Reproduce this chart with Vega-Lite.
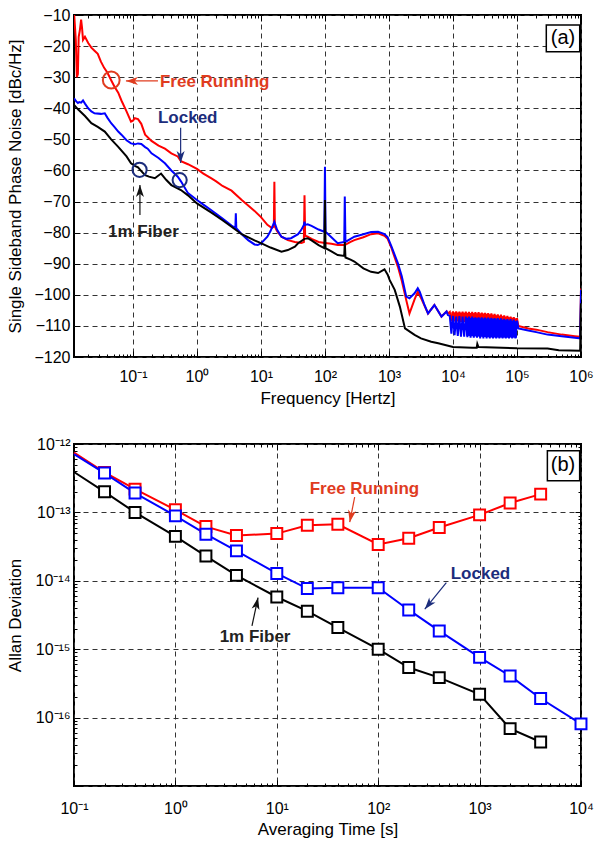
{
  "$schema": "https://vega.github.io/schema/vega-lite/v6.json",
  "background": "white",
  "padding": {"left": 5, "top": 6, "right": 0, "bottom": 0},
  "config": {
    "font": "Liberation Sans",
    "view": {"stroke": "#000", "strokeWidth": 2},
    "axis": {"domain": false, "labelFont": "Liberation Sans", "labelFontSize": 16, "labelColor": "#000", "titleFont": "Liberation Sans", "titleFontSize": 17, "titleFontWeight": "normal", "titleColor": "#000", "tickColor": "#000", "tickWidth": 1, "gridColor": "#333", "gridDash": [5, 4], "gridWidth": 1, "labelOverlap": false, "labelFlush": false},
    "concat": {"spacing": 28}
  },
  "datasets": {
    "red": [
      {"f":0.012,"dB":-9},{"f":0.0128,"dB":-18},{"f":0.0133,"dB":-30},{"f":0.0138,"dB":-29},{"f":0.0142,"dB":-17},{"f":0.0148,"dB":-15},{"f":0.0155,"dB":-11.5},{"f":0.016,"dB":-14},{"f":0.0166,"dB":-18},{"f":0.0178,"dB":-17},{"f":0.02,"dB":-19},{"f":0.0224,"dB":-20.5},{"f":0.0251,"dB":-21.5},{"f":0.0282,"dB":-22.5},{"f":0.0316,"dB":-25},{"f":0.0355,"dB":-27},{"f":0.0398,"dB":-28.5},{"f":0.0457,"dB":-31},{"f":0.0513,"dB":-33},{"f":0.0589,"dB":-35},{"f":0.0661,"dB":-37.5},{"f":0.0794,"dB":-41},{"f":0.0933,"dB":-44.3},{"f":0.1,"dB":-44},{"f":0.107,"dB":-43.2},{"f":0.12,"dB":-43.5},{"f":0.135,"dB":-45},{"f":0.155,"dB":-48.5},{"f":0.195,"dB":-50.5},{"f":0.251,"dB":-52},{"f":0.316,"dB":-53},{"f":0.398,"dB":-54.5},{"f":0.501,"dB":-55.5},{"f":0.562,"dB":-57},{"f":0.724,"dB":-58},{"f":1.0,"dB":-59.5},{"f":1.26,"dB":-61},{"f":1.66,"dB":-62.5},{"f":2.0,"dB":-63.5},{"f":2.51,"dB":-65},{"f":3.47,"dB":-66.5},{"f":5.01,"dB":-69.5},{"f":7.94,"dB":-73},{"f":10,"dB":-75},{"f":12.6,"dB":-77.5},{"f":14.8,"dB":-78.5},{"f":15.9,"dB":-78},{"f":16.2,"dB":-63.6},{"f":16.5,"dB":-78},{"f":17.8,"dB":-79.5},{"f":20.9,"dB":-81.3},{"f":26.3,"dB":-82.4},{"f":33.9,"dB":-83},{"f":42.7,"dB":-83.3},{"f":46.8,"dB":-83},{"f":47.9,"dB":-68},{"f":49,"dB":-81},{"f":53.7,"dB":-81.3},{"f":61.7,"dB":-82},{"f":79.4,"dB":-83},{"f":100,"dB":-83.3},{"f":126,"dB":-83.6},{"f":158,"dB":-84},{"f":204,"dB":-84},{"f":251,"dB":-83},{"f":288,"dB":-82.4},{"f":398,"dB":-81.5},{"f":525,"dB":-80.5},{"f":676,"dB":-80.2},{"f":851,"dB":-81},{"f":955,"dB":-82},{"f":1096,"dB":-85},{"f":1380,"dB":-91},{"f":1585,"dB":-95.5},{"f":1862,"dB":-101.7},{"f":2089,"dB":-106},{"f":2512,"dB":-101.5},{"f":2818,"dB":-99},{"f":3162,"dB":-101},{"f":4074,"dB":-106},{"f":5129,"dB":-103.3},{"f":6607,"dB":-107},{"f":7943,"dB":-105.3},{"f":8318,"dB":-106},
      {"f":8913,"dB":-105.5},{"f":9441,"dB":-108.5},{"f":10000,"dB":-105.3},{"f":10593,"dB":-108.5},{"f":11220,"dB":-105.3},{"f":11885,"dB":-108.5},{"f":12589,"dB":-105.4},{"f":13335,"dB":-108.7},{"f":14125,"dB":-105.4},{"f":14962,"dB":-108.7},{"f":15849,"dB":-105.4},{"f":16788,"dB":-108.8},{"f":17783,"dB":-105.5},{"f":18836,"dB":-108.8},{"f":19953,"dB":-105.5},{"f":21135,"dB":-109},{"f":22387,"dB":-105.6},{"f":23714,"dB":-109},{"f":25119,"dB":-105.6},{"f":26607,"dB":-109},{"f":28184,"dB":-105.7},{"f":29854,"dB":-109},{"f":31623,"dB":-105.8},{"f":33497,"dB":-109.2},{"f":35481,"dB":-105.9},{"f":37584,"dB":-109.2},{"f":39811,"dB":-106},{"f":42170,"dB":-109.3},{"f":44668,"dB":-106.1},{"f":47315,"dB":-109.3},{"f":50119,"dB":-106.3},{"f":53088,"dB":-109.5},{"f":56234,"dB":-106.4},{"f":59566,"dB":-109.5},{"f":63096,"dB":-106.6},{"f":66834,"dB":-109.6},{"f":70795,"dB":-106.8},{"f":74989,"dB":-109.6},{"f":79433,"dB":-107},{"f":84140,"dB":-109.8},{"f":89125,"dB":-107.2},{"f":94406,"dB":-109.8},{"f":100000,"dB":-107.5},
      {"f":105000,"dB":-110},{"f":150000,"dB":-110.8},{"f":200000,"dB":-111.2},{"f":300000,"dB":-112},{"f":500000,"dB":-112.8},{"f":800000,"dB":-113.3},{"f":970000,"dB":-113.5},{"f":1000000,"dB":-98}
    ],
    "blue": [
      {"f":0.012,"dB":-36.8},{"f":0.013,"dB":-37.8},{"f":0.0138,"dB":-38.3},{"f":0.0145,"dB":-38},{"f":0.0155,"dB":-38.2},{"f":0.0166,"dB":-37.5},{"f":0.0178,"dB":-38.5},{"f":0.02,"dB":-40},{"f":0.0224,"dB":-41},{"f":0.0251,"dB":-41.6},{"f":0.0316,"dB":-41.8},{"f":0.0363,"dB":-41.6},{"f":0.0398,"dB":-43},{"f":0.0457,"dB":-44.8},{"f":0.0513,"dB":-46},{"f":0.0589,"dB":-47.5},{"f":0.0661,"dB":-48.5},{"f":0.0794,"dB":-50.3},{"f":0.0933,"dB":-51.3},{"f":0.107,"dB":-51.6},{"f":0.12,"dB":-51.3},{"f":0.135,"dB":-51.5},{"f":0.155,"dB":-52.5},{"f":0.17,"dB":-53},{"f":0.195,"dB":-54.5},{"f":0.251,"dB":-56},{"f":0.316,"dB":-57.7},{"f":0.398,"dB":-60},{"f":0.501,"dB":-62},{"f":0.562,"dB":-63.5},{"f":0.724,"dB":-67.3},{"f":1.0,"dB":-69.5},{"f":1.26,"dB":-71},{"f":1.66,"dB":-72.7},{"f":2.51,"dB":-75.5},{"f":3.47,"dB":-77.7},{"f":3.98,"dB":-78.5},{"f":4.05,"dB":-73.8},{"f":4.12,"dB":-78.6},{"f":5.01,"dB":-80.5},{"f":6.31,"dB":-82.4},{"f":7.94,"dB":-83.8},{"f":8.91,"dB":-84},{"f":10,"dB":-83.5},{"f":12.6,"dB":-81.3},{"f":14.1,"dB":-79.5},{"f":16.2,"dB":-76.5},{"f":17.8,"dB":-79},{"f":20.9,"dB":-81.3},{"f":25,"dB":-82},{"f":29.5,"dB":-81.8},{"f":38,"dB":-80.5},{"f":42.7,"dB":-79.1},{"f":46.8,"dB":-77.5},{"f":47.9,"dB":-76.5},{"f":49,"dB":-77.5},{"f":53.7,"dB":-77.3},{"f":61.7,"dB":-77.8},{"f":79.4,"dB":-79},{"f":97.7,"dB":-79.7},{"f":100,"dB":-58.8},{"f":102,"dB":-79.7},{"f":126,"dB":-81.5},{"f":158,"dB":-83.4},{"f":200,"dB":-83},{"f":204,"dB":-68.4},{"f":209,"dB":-83},{"f":251,"dB":-82},{"f":288,"dB":-81.3},{"f":398,"dB":-80.5},{"f":525,"dB":-79.8},{"f":676,"dB":-79.7},{"f":851,"dB":-80.5},{"f":955,"dB":-81.5},{"f":1096,"dB":-84.5},{"f":1380,"dB":-89.9},{"f":1585,"dB":-94},{"f":1862,"dB":-100.6},{"f":2089,"dB":-101.1},{"f":2512,"dB":-99.5},{"f":2818,"dB":-97.9},{"f":3020,"dB":-99},{"f":3548,"dB":-103},{"f":4074,"dB":-106},{"f":5129,"dB":-103.3},{"f":6607,"dB":-107},{"f":7943,"dB":-105.4},{"f":8318,"dB":-106.5},
      {"f":8913,"dB":-106.8},{"f":9441,"dB":-112.5},{"f":10000,"dB":-106.8},{"f":10593,"dB":-113},{"f":11220,"dB":-107},{"f":11885,"dB":-113.2},{"f":12589,"dB":-106.8},{"f":13335,"dB":-113.5},{"f":14125,"dB":-107},{"f":14962,"dB":-113.5},{"f":15849,"dB":-107},{"f":16788,"dB":-113.6},{"f":17783,"dB":-107},{"f":18836,"dB":-113.8},{"f":19953,"dB":-107},{"f":21135,"dB":-113.8},{"f":22387,"dB":-107.2},{"f":23714,"dB":-113.8},{"f":25119,"dB":-107.2},{"f":26607,"dB":-114},{"f":28184,"dB":-107.2},{"f":29854,"dB":-114},{"f":31623,"dB":-107.3},{"f":33497,"dB":-114},{"f":35481,"dB":-107.3},{"f":37584,"dB":-114},{"f":39811,"dB":-107.4},{"f":42170,"dB":-114},{"f":44668,"dB":-107.5},{"f":47315,"dB":-114},{"f":50119,"dB":-107.5},{"f":53088,"dB":-114},{"f":56234,"dB":-107.6},{"f":59566,"dB":-114},{"f":63096,"dB":-107.7},{"f":66834,"dB":-114},{"f":70795,"dB":-107.8},{"f":74989,"dB":-114},{"f":79433,"dB":-107.8},{"f":84140,"dB":-114},{"f":89125,"dB":-108},{"f":94406,"dB":-114},{"f":100000,"dB":-108.3},
      {"f":105000,"dB":-110.8},{"f":150000,"dB":-111.5},{"f":200000,"dB":-112},{"f":300000,"dB":-112.8},{"f":500000,"dB":-113.3},{"f":800000,"dB":-113.8},{"f":970000,"dB":-114},{"f":1000000,"dB":-98.4}
    ],
    "black": [
      {"f":0.012,"dB":-38.9},{"f":0.0141,"dB":-40.5},{"f":0.0178,"dB":-42.5},{"f":0.0224,"dB":-44.8},{"f":0.0282,"dB":-46},{"f":0.0363,"dB":-47.5},{"f":0.0457,"dB":-50},{"f":0.0589,"dB":-52.4},{"f":0.0794,"dB":-55.5},{"f":0.0933,"dB":-57.7},{"f":0.107,"dB":-58.5},{"f":0.12,"dB":-59},{"f":0.135,"dB":-60.2},{"f":0.155,"dB":-61.5},{"f":0.178,"dB":-62},{"f":0.22,"dB":-62.5},{"f":0.275,"dB":-61},{"f":0.33,"dB":-63},{"f":0.398,"dB":-64.7},{"f":0.562,"dB":-66.3},{"f":0.724,"dB":-68},{"f":1.0,"dB":-70.6},{"f":1.66,"dB":-73.5},{"f":2.51,"dB":-76},{"f":3.47,"dB":-78.1},{"f":5.01,"dB":-80.5},{"f":7.94,"dB":-82.5},{"f":10,"dB":-83.4},{"f":14.1,"dB":-84.8},{"f":20.9,"dB":-86.1},{"f":26.3,"dB":-85.6},{"f":33.9,"dB":-84.5},{"f":38,"dB":-83.4},{"f":47.9,"dB":-82},{"f":53.7,"dB":-81.8},{"f":61.7,"dB":-82.5},{"f":79.4,"dB":-84},{"f":97.7,"dB":-85},{"f":100,"dB":-69.5},{"f":102,"dB":-85},{"f":126,"dB":-86},{"f":158,"dB":-87.2},{"f":200,"dB":-87.5},{"f":204,"dB":-83},{"f":209,"dB":-88},{"f":251,"dB":-88.7},{"f":288,"dB":-89.3},{"f":398,"dB":-91.5},{"f":525,"dB":-92.6},{"f":676,"dB":-93},{"f":851,"dB":-91.8},{"f":955,"dB":-93.5},{"f":1023,"dB":-95.2},{"f":1230,"dB":-98.4},{"f":1479,"dB":-103.8},{"f":1778,"dB":-110.8},{"f":2512,"dB":-112.9},{"f":3162,"dB":-114},{"f":4571,"dB":-115.1},{"f":5888,"dB":-115.6},{"f":10000,"dB":-116.8},{"f":20000,"dB":-117},{"f":23500,"dB":-117},{"f":24000,"dB":-115.8},{"f":25000,"dB":-116.8},{"f":100000,"dB":-117.2},{"f":300000,"dB":-117.3},{"f":450000,"dB":-117.8},{"f":970000,"dB":-118},{"f":1000000,"dB":-102.7}
    ],
    "redband": [{"f":9441,"dB":-105.6,"dB2":-108.3},{"f":31623,"dB":-106,"dB2":-109},{"f":100000,"dB":-107.6,"dB2":-109.5}],
    "blueband": [{"f":16000,"dB":-107.4,"dB2":-113.2},{"f":40000,"dB":-107.7,"dB2":-113.7},{"f":100000,"dB":-108.5,"dB2":-113.8}],
    "adev": [
      {"s":"Free Running","t":0.1,"a":7.5e-13},{"s":"Free Running","t":0.2,"a":3.85e-13},{"s":"Free Running","t":0.4,"a":2.19e-13},{"s":"Free Running","t":1,"a":1.09e-13},{"s":"Free Running","t":2,"a":6.2e-14},{"s":"Free Running","t":4,"a":4.6e-14},{"s":"Free Running","t":10,"a":4.9e-14},{"s":"Free Running","t":20,"a":6.5e-14},{"s":"Free Running","t":40,"a":6.7e-14},{"s":"Free Running","t":100,"a":3.4e-14},{"s":"Free Running","t":200,"a":4.2e-14},{"s":"Free Running","t":400,"a":6.0e-14},{"s":"Free Running","t":1000,"a":9.2e-14},{"s":"Free Running","t":2000,"a":1.37e-13},{"s":"Free Running","t":4000,"a":1.85e-13},
      {"s":"Locked","t":0.1,"a":7.1e-13},{"s":"Locked","t":0.2,"a":3.76e-13},{"s":"Locked","t":0.4,"a":1.92e-13},{"s":"Locked","t":1,"a":8.9e-14},{"s":"Locked","t":2,"a":4.8e-14},{"s":"Locked","t":4,"a":2.74e-14},{"s":"Locked","t":10,"a":1.28e-14},{"s":"Locked","t":20,"a":7.7e-15},{"s":"Locked","t":40,"a":7.9e-15},{"s":"Locked","t":100,"a":7.9e-15},{"s":"Locked","t":200,"a":3.75e-15},{"s":"Locked","t":400,"a":1.85e-15},{"s":"Locked","t":1000,"a":7.6e-16},{"s":"Locked","t":2000,"a":4.07e-16},{"s":"Locked","t":4000,"a":1.9e-16},{"s":"Locked","t":10000,"a":8.1e-17},
      {"s":"1m Fiber","t":0.1,"a":3.9e-13},{"s":"1m Fiber","t":0.2,"a":2.0e-13},{"s":"1m Fiber","t":0.4,"a":1.0e-13},{"s":"1m Fiber","t":1,"a":4.46e-14},{"s":"1m Fiber","t":2,"a":2.3e-14},{"s":"1m Fiber","t":4,"a":1.2e-14},{"s":"1m Fiber","t":10,"a":5.8e-15},{"s":"1m Fiber","t":20,"a":3.6e-15},{"s":"1m Fiber","t":40,"a":2.07e-15},{"s":"1m Fiber","t":100,"a":1.0e-15},{"s":"1m Fiber","t":200,"a":5.4e-16},{"s":"1m Fiber","t":400,"a":3.84e-16},{"s":"1m Fiber","t":1000,"a":2.19e-16},{"s":"1m Fiber","t":2000,"a":6.9e-17},{"s":"1m Fiber","t":4000,"a":4.4e-17}
    ]
  },
  "vconcat": [
    {
      "width": 507, "height": 342,
      "resolve": {"axis": {"x": "independent", "y": "independent"}},
      "layer": [
        {
          "encoding": {
            "x": {"field": "f", "type": "quantitative", "scale": {"type": "log", "domain": [0.012, 1000000]},
              "axis": {"title": "Frequency [Hertz]", "titleX": 253.5, "titleY": 46, "titleBaseline": "alphabetic",
                "values": [0.02,0.03,0.04,0.05,0.06,0.07,0.08,0.09,0.1,0.2,0.3,0.4,0.5,0.6,0.7,0.8,0.9,1,2,3,4,5,6,7,8,9,10,20,30,40,50,60,70,80,90,100,200,300,400,500,600,700,800,900,1000,2000,3000,4000,5000,6000,7000,8000,9000,10000,20000,30000,40000,50000,60000,70000,80000,90000,100000,200000,300000,400000,500000,600000,700000,800000,900000,1000000],
                "labelExpr": "abs(log(datum.value)/LN10-round(log(datum.value)/LN10))<0.001 ? '10' + replace(replace(replace(replace(replace(replace(replace(replace(replace(replace(replace(''+round(log(datum.value)/LN10),'-','⁻'),'0','⁰'),'1','¹'),'2','²'),'3','³'),'4','⁴'),'5','⁵'),'6','⁶'),'7','⁷'),'8','⁸'),'9','⁹') : ''",
                "labelBaseline": "alphabetic", "labelPadding": 30,
                "gridOpacity": {"condition": {"test": "abs(log(datum.value)/LN10-round(log(datum.value)/LN10))<0.001", "value": 1}, "value": 0},
                "tickSize": {"condition": {"test": "abs(log(datum.value)/LN10-round(log(datum.value)/LN10))<0.001", "value": -6}, "value": -3}}},
            "y": {"field": "dB", "type": "quantitative", "scale": {"domain": [-120, -10]},
              "axis": {"title": "Single Sideband Phase Noise [dBc/Hz]", "titleX": -54, "titleY": 171, "titleBaseline": "alphabetic",
                "values": [-120,-110,-100,-90,-80,-70,-60,-50,-40,-30,-20,-10], "tickSize": -6, "labelPadding": 10}}
          },
          "layer": [
            {"data": {"name": "red"}, "mark": {"type": "line", "color": "#ff0000", "strokeWidth": 2, "clip": true}},
            {"data": {"name": "redband"}, "mark": {"type": "area", "color": "#ff0000", "opacity": 1}, "encoding": {"y2": {"field": "dB2"}}},
            {"data": {"name": "blue"}, "mark": {"type": "line", "color": "#0000ff", "strokeWidth": 2, "clip": true}},
            {"data": {"name": "blueband"}, "mark": {"type": "area", "color": "#0000ff", "opacity": 1}, "encoding": {"y2": {"field": "dB2"}}},
            {"data": {"name": "black"}, "mark": {"type": "line", "color": "#000000", "strokeWidth": 2, "clip": true}},
            {"data": {"values": [{"f": 0.246, "dB": -31.2, "f2": 0.0777, "dB2": -31.2}]}, "mark": {"type": "rule", "color": "#e03c1f", "strokeWidth": 1.2}, "encoding": {"x2": {"field": "f2"}, "y2": {"field": "dB2"}}},
            {"data": {"values": [{"f": 0.0777, "dB": -31.2}]}, "mark": {"type": "point", "shape": "M0,0L0.5,1.5L0,1.1L-0.5,1.5Z", "filled": true, "size": 256, "angle": 270, "color": "#e03c1f", "opacity": 1}},
            {"data": {"values": [{"f": 0.0458, "dB": -30.9}]}, "mark": {"type": "point", "shape": "circle", "filled": false, "size": 283, "strokeWidth": 2, "color": "#e03c1f", "opacity": 1}},
            {"data": {"values": [{"f": 0.264, "dB": -31.4, "txt": "Free Running"}]}, "mark": {"type": "text", "align": "left", "baseline": "middle", "fontSize": 17, "fontWeight": "bold", "color": "#e03c1f"}, "encoding": {"text": {"field": "txt"}}},
            {"data": {"values": [{"f": 0.556, "dB": -46.3, "f2": 0.556, "dB2": -57.6}]}, "mark": {"type": "rule", "color": "#1c2d7c", "strokeWidth": 1.2}, "encoding": {"x2": {"field": "f2"}, "y2": {"field": "dB2"}}},
            {"data": {"values": [{"f": 0.556, "dB": -57.6}]}, "mark": {"type": "point", "shape": "M0,0L0.5,1.5L0,1.1L-0.5,1.5Z", "filled": true, "size": 256, "angle": 180, "color": "#1c2d7c", "opacity": 1}},
            {"data": {"values": [{"f": 0.537, "dB": -63.1}, {"f": 0.127, "dB": -59.8}]}, "mark": {"type": "point", "shape": "circle", "filled": false, "size": 200, "strokeWidth": 2, "color": "#1c2d7c", "opacity": 1}},
            {"data": {"values": [{"f": 0.246, "dB": -43.1, "txt": "Locked"}]}, "mark": {"type": "text", "align": "left", "baseline": "middle", "fontSize": 17, "fontWeight": "bold", "color": "#1c2d7c"}, "encoding": {"text": {"field": "txt"}}},
            {"data": {"values": [{"f": 0.1286, "dB": -74.3, "f2": 0.1286, "dB2": -64.7}]}, "mark": {"type": "rule", "color": "#111", "strokeWidth": 1.2}, "encoding": {"x2": {"field": "f2"}, "y2": {"field": "dB2"}}},
            {"data": {"values": [{"f": 0.1286, "dB": -64.7}]}, "mark": {"type": "point", "shape": "M0,0L0.5,1.5L0,1.1L-0.5,1.5Z", "filled": true, "size": 256, "angle": 0, "color": "#111", "opacity": 1}},
            {"data": {"values": [{"f": 0.0407, "dB": -79.7, "txt": "1m Fiber"}]}, "mark": {"type": "text", "align": "left", "baseline": "middle", "fontSize": 17, "fontWeight": "bold", "color": "#222"}, "encoding": {"text": {"field": "txt"}}},
            {"data": {"values": [{"f": 287000, "dB": -13.2, "f2": 955000, "dB2": -21.8}]}, "mark": {"type": "rect", "fill": "white", "stroke": "#000", "strokeWidth": 1.5}, "encoding": {"x2": {"field": "f2"}, "y2": {"field": "dB2"}}},
            {"data": {"values": [{"f": 524000, "dB": -17.4, "txt": "(a)"}]}, "mark": {"type": "text", "align": "center", "baseline": "middle", "fontSize": 20, "color": "#000"}, "encoding": {"text": {"field": "txt"}}}
          ]
        },
        {
          "data": {"values": [{"f": 1, "dB": -50}]},
          "mark": {"type": "point", "opacity": 0},
          "encoding": {
            "x": {"field": "f", "type": "quantitative", "scale": {"type": "log", "domain": [0.012, 1000000]},
              "axis": {"orient": "top", "title": null, "labels": false, "grid": false,
                "values": [0.02,0.03,0.04,0.05,0.06,0.07,0.08,0.09,0.1,0.2,0.3,0.4,0.5,0.6,0.7,0.8,0.9,1,2,3,4,5,6,7,8,9,10,20,30,40,50,60,70,80,90,100,200,300,400,500,600,700,800,900,1000,2000,3000,4000,5000,6000,7000,8000,9000,10000,20000,30000,40000,50000,60000,70000,80000,90000,100000,200000,300000,400000,500000,600000,700000,800000,900000,1000000],
                "tickSize": {"condition": {"test": "abs(log(datum.value)/LN10-round(log(datum.value)/LN10))<0.001", "value": -6}, "value": -3}}},
            "y": {"field": "dB", "type": "quantitative", "scale": {"domain": [-120, -10]},
              "axis": {"orient": "right", "title": null, "labels": false, "grid": false,
                "values": [-120,-110,-100,-90,-80,-70,-60,-50,-40,-30,-20,-10], "tickSize": -6}}
          }
        }
      ]
    },
    {
      "width": 507, "height": 342,
      "resolve": {"axis": {"x": "independent", "y": "independent"}},
      "layer": [
        {
          "encoding": {
            "x": {"field": "t", "type": "quantitative", "scale": {"type": "log", "domain": [0.1, 10000]},
              "axis": {"title": "Averaging Time [s]", "titleX": 253.5, "titleY": 48, "titleBaseline": "alphabetic",
                "values": [0.1,0.2,0.3,0.4,0.5,0.6,0.7,0.8,0.9,1,2,3,4,5,6,7,8,9,10,20,30,40,50,60,70,80,90,100,200,300,400,500,600,700,800,900,1000,2000,3000,4000,5000,6000,7000,8000,9000,10000],
                "labelExpr": "abs(log(datum.value)/LN10-round(log(datum.value)/LN10))<0.001 ? '10' + replace(replace(replace(replace(replace(replace(replace(replace(replace(replace(replace(''+round(log(datum.value)/LN10),'-','⁻'),'0','⁰'),'1','¹'),'2','²'),'3','³'),'4','⁴'),'5','⁵'),'6','⁶'),'7','⁷'),'8','⁸'),'9','⁹') : ''",
                "labelBaseline": "alphabetic", "labelPadding": 33,
                "gridOpacity": {"condition": {"test": "abs(log(datum.value)/LN10-round(log(datum.value)/LN10))<0.001", "value": 1}, "value": 0},
                "tickSize": {"condition": {"test": "abs(log(datum.value)/LN10-round(log(datum.value)/LN10))<0.001", "value": -6}, "value": -3}}},
            "y": {"field": "a", "type": "quantitative", "scale": {"type": "log", "domain": [1e-17, 1e-12]},
              "axis": {"title": "Allan Deviation", "titleX": -54, "titleY": 171, "titleBaseline": "alphabetic",
                "values": [1e-17,2e-17,3e-17,4e-17,5e-17,6e-17,7e-17,8e-17,9e-17,1e-16,2e-16,3e-16,4e-16,5e-16,6e-16,7e-16,8e-16,9e-16,1e-15,2e-15,3e-15,4e-15,5e-15,6e-15,7e-15,8e-15,9e-15,1e-14,2e-14,3e-14,4e-14,5e-14,6e-14,7e-14,8e-14,9e-14,1e-13,2e-13,3e-13,4e-13,5e-13,6e-13,7e-13,8e-13,9e-13,1e-12],
                "labelExpr": "datum.value > 2e-17 && abs(log(datum.value)/LN10-round(log(datum.value)/LN10))<0.001 ? '10' + replace(replace(replace(replace(replace(replace(replace(replace(replace(replace(replace(''+round(log(datum.value)/LN10),'-','⁻'),'0','⁰'),'1','¹'),'2','²'),'3','³'),'4','⁴'),'5','⁵'),'6','⁶'),'7','⁷'),'8','⁸'),'9','⁹') : ''",
                "labelPadding": 10,
                "gridOpacity": {"condition": {"test": "abs(log(datum.value)/LN10-round(log(datum.value)/LN10))<0.001", "value": 1}, "value": 0},
                "tickSize": {"condition": {"test": "abs(log(datum.value)/LN10-round(log(datum.value)/LN10))<0.001", "value": -6}, "value": -3}}}
          },
          "layer": [
            {"data": {"name": "adev"}, "transform": [{"filter": "datum.s == 'Free Running'"}], "mark": {"type": "line", "color": "#ff0000", "strokeWidth": 2}},
            {"data": {"name": "adev"}, "transform": [{"filter": "datum.s == 'Locked'"}], "mark": {"type": "line", "color": "#0000ff", "strokeWidth": 2}},
            {"data": {"name": "adev"}, "transform": [{"filter": "datum.s == '1m Fiber'"}], "mark": {"type": "line", "color": "#000000", "strokeWidth": 2}},
            {"data": {"name": "adev"}, "transform": [{"filter": "datum.s == 'Free Running' && datum.t > 0.15"}], "mark": {"type": "point", "shape": "square", "size": 120, "strokeWidth": 2, "fill": "white", "filled": true, "stroke": "#ff0000", "opacity": 1}},
            {"data": {"name": "adev"}, "transform": [{"filter": "datum.s == 'Locked' && datum.t > 0.15"}], "mark": {"type": "point", "shape": "square", "size": 120, "strokeWidth": 2, "fill": "white", "filled": true, "stroke": "#0000ff", "opacity": 1}},
            {"data": {"name": "adev"}, "transform": [{"filter": "datum.s == '1m Fiber' && datum.t > 0.15"}], "mark": {"type": "point", "shape": "square", "size": 120, "strokeWidth": 2, "fill": "white", "filled": true, "stroke": "#000000", "opacity": 1}},
            {"data": {"values": [{"t": 58.6, "a": 1.67e-13, "t2": 52.4, "a2": 7.2e-14}]}, "mark": {"type": "rule", "color": "#e03c1f", "strokeWidth": 1.2}, "encoding": {"x2": {"field": "t2"}, "y2": {"field": "a2"}}},
            {"data": {"values": [{"t": 52.4, "a": 7.2e-14}]}, "mark": {"type": "point", "shape": "M0,0L0.5,1.5L0,1.1L-0.5,1.5Z", "filled": true, "size": 256, "angle": 191, "color": "#e03c1f", "opacity": 1}},
            {"data": {"values": [{"t": 21.1, "a": 2.19e-13, "txt": "Free Running"}]}, "mark": {"type": "text", "align": "left", "baseline": "middle", "fontSize": 17, "fontWeight": "bold", "color": "#e03c1f"}, "encoding": {"text": {"field": "txt"}}},
            {"data": {"values": [{"t": 470, "a": 9.44e-15, "t2": 288, "a2": 3.84e-15}]}, "mark": {"type": "rule", "color": "#1c2d7c", "strokeWidth": 1.2}, "encoding": {"x2": {"field": "t2"}, "y2": {"field": "a2"}}},
            {"data": {"values": [{"t": 288, "a": 3.84e-15}]}, "mark": {"type": "point", "shape": "M0,0L0.5,1.5L0,1.1L-0.5,1.5Z", "filled": true, "size": 256, "angle": 219, "color": "#1c2d7c", "opacity": 1}},
            {"data": {"values": [{"t": 519, "a": 1.25e-14, "txt": "Locked"}]}, "mark": {"type": "text", "align": "left", "baseline": "middle", "fontSize": 17, "fontWeight": "bold", "color": "#1c2d7c"}, "encoding": {"text": {"field": "txt"}}},
            {"data": {"values": [{"t": 5.69, "a": 2.19e-15, "t2": 6.53, "a2": 5.69e-15}]}, "mark": {"type": "rule", "color": "#111", "strokeWidth": 1.2}, "encoding": {"x2": {"field": "t2"}, "y2": {"field": "a2"}}},
            {"data": {"values": [{"t": 6.53, "a": 5.69e-15}]}, "mark": {"type": "point", "shape": "M0,0L0.5,1.5L0,1.1L-0.5,1.5Z", "filled": true, "size": 256, "angle": 12, "color": "#111", "opacity": 1}},
            {"data": {"values": [{"t": 2.73, "a": 1.52e-15, "txt": "1m Fiber"}]}, "mark": {"type": "text", "align": "left", "baseline": "middle", "fontSize": 17, "fontWeight": "bold", "color": "#222"}, "encoding": {"text": {"field": "txt"}}},
            {"data": {"values": [{"t": 4660, "a": 7.98e-13, "t2": 9700, "a2": 2.9e-13}]}, "mark": {"type": "rect", "fill": "white", "stroke": "#000", "strokeWidth": 1.5}, "encoding": {"x2": {"field": "t2"}, "y2": {"field": "a2"}}},
            {"data": {"values": [{"t": 6640, "a": 4.93e-13, "txt": "(b)"}]}, "mark": {"type": "text", "align": "center", "baseline": "middle", "fontSize": 20, "color": "#000"}, "encoding": {"text": {"field": "txt"}}}
          ]
        },
        {
          "data": {"values": [{"t": 1, "a": 1e-14}]},
          "mark": {"type": "point", "opacity": 0},
          "encoding": {
            "x": {"field": "t", "type": "quantitative", "scale": {"type": "log", "domain": [0.1, 10000]},
              "axis": {"orient": "top", "title": null, "labels": false, "grid": false,
                "values": [0.1,0.2,0.3,0.4,0.5,0.6,0.7,0.8,0.9,1,2,3,4,5,6,7,8,9,10,20,30,40,50,60,70,80,90,100,200,300,400,500,600,700,800,900,1000,2000,3000,4000,5000,6000,7000,8000,9000,10000],
                "tickSize": {"condition": {"test": "abs(log(datum.value)/LN10-round(log(datum.value)/LN10))<0.001", "value": -6}, "value": -3}}},
            "y": {"field": "a", "type": "quantitative", "scale": {"type": "log", "domain": [1e-17, 1e-12]},
              "axis": {"orient": "right", "title": null, "labels": false, "grid": false,
                "values": [1e-17,2e-17,3e-17,4e-17,5e-17,6e-17,7e-17,8e-17,9e-17,1e-16,2e-16,3e-16,4e-16,5e-16,6e-16,7e-16,8e-16,9e-16,1e-15,2e-15,3e-15,4e-15,5e-15,6e-15,7e-15,8e-15,9e-15,1e-14,2e-14,3e-14,4e-14,5e-14,6e-14,7e-14,8e-14,9e-14,1e-13,2e-13,3e-13,4e-13,5e-13,6e-13,7e-13,8e-13,9e-13,1e-12],
                "tickSize": {"condition": {"test": "abs(log(datum.value)/LN10-round(log(datum.value)/LN10))<0.001", "value": -6}, "value": -3}}}
          }
        }
      ]
    }
  ]
}
